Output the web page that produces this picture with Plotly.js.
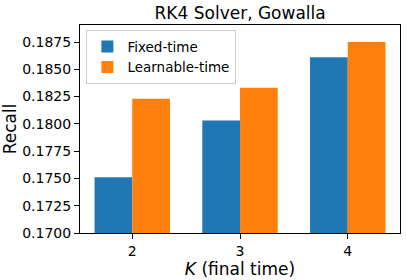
<!DOCTYPE html>
<html><head><meta charset="utf-8">
<script src="https://cdn.plot.ly/plotly-3.0.1.min.js"></script>
<style>html,body{margin:0;padding:0;background:#fff}#c{width:407px;height:280px}</style>
</head><body><div id="c"></div>
<script>
var K = [2, 3, 4];
var tickLabels = ['2', '3', '4'];
var fixedTime = [0.1751, 0.1803, 0.1861];
var learnableTime = [0.1823, 0.1833, 0.1875];
var barW = 0.35;
var font = 'DejaVu Sans, sans-serif';
var traces = [
  {type:'bar', name:'Fixed-time', x:K, y:fixedTime, width:barW, offset:-barW,
   marker:{color:'#1f77b4'}, base:0},
  {type:'bar', name:'Learnable-time', x:K, y:learnableTime, width:barW, offset:0,
   marker:{color:'#ff7f0e'}, base:0}
];
var layout = {
  width:407, height:280,
  margin:{l:80, r:7, t:25, b:47},
  paper_bgcolor:'#fff', plot_bgcolor:'#fff',
  font:{family:font, color:'#000', size:14},
  title:{text:'RK4 Solver, Gowalla', font:{size:17, family:font, color:'#000'}, x:0.59, xanchor:'center', y:0.952, yanchor:'middle'},
  barmode:'overlay',
  showlegend:true,
  legend:{x:0.02, y:0.975, xanchor:'left', yanchor:'top', bgcolor:'rgba(255,255,255,0.8)',
    bordercolor:'#cccccc', borderwidth:1, font:{size:13.5, family:font}, traceorder:'normal', tracegroupgap:0},
  xaxis:{range:[1.515, 4.485], tickvals:K, ticktext:tickLabels, showgrid:false, zeroline:false,
    showline:true, mirror:true, linecolor:'#000', linewidth:1, ticks:'outside', ticklen:5, tickcolor:'#000',
    tickfont:{size:14}, title:{text:'<i>K</i> (final time)', font:{size:17}, standoff:0}},
  yaxis:{range:[0.1700, 0.18906], tickvals:[0.17,0.1725,0.175,0.1775,0.18,0.1825,0.185,0.1875],
    ticktext:['0.1700','0.1725','0.1750','0.1775','0.1800','0.1825','0.1850','0.1875'],
    showgrid:false, zeroline:false, showline:true, mirror:true, linecolor:'#000', linewidth:1,
    ticks:'outside', ticklen:5, tickcolor:'#000', tickfont:{size:14},
    title:{text:'Recall', font:{size:17}, standoff:4}}
};
Plotly.newPlot('c', traces, layout, {displayModeBar:false, staticPlot:true});
</script></body></html>
